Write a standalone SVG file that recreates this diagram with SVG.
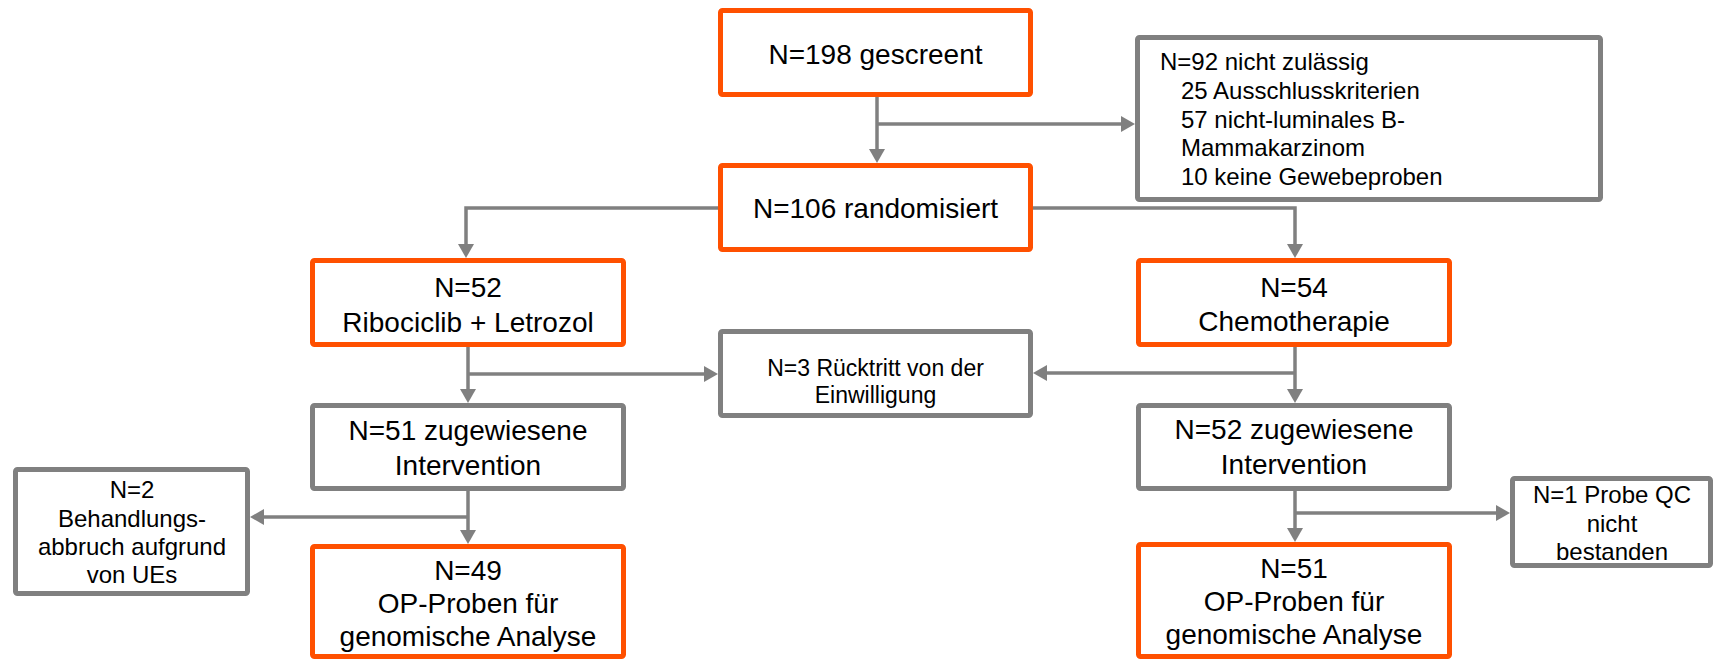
<svg xmlns="http://www.w3.org/2000/svg" width="1718" height="659" viewBox="0 0 1718 659">
<defs>
<style>
.or{fill:#fff;stroke:#FF5000;stroke-width:5}
.gr{fill:#fff;stroke:#808080;stroke-width:5}
.t{font-family:"Liberation Sans",Arial,sans-serif;font-size:28px;fill:#000;text-anchor:middle}
.s{font-family:"Liberation Sans",Arial,sans-serif;font-size:24px;fill:#000;text-anchor:middle}
.l{font-family:"Liberation Sans",Arial,sans-serif;font-size:24px;fill:#000}
.c{fill:none;stroke:#808080;stroke-width:3.5}
</style>
<marker id="ah" markerUnits="userSpaceOnUse" markerWidth="14" markerHeight="16" refX="9" refY="8" orient="auto">
<path d="M0,0 L14,8 L0,16 Z" fill="#808080"/>
</marker>
</defs>
<rect width="1718" height="659" fill="#fff"/>
<g id="connectors">
<path class="c" d="M877,97 V158" marker-end="url(#ah)"/>
<path class="c" d="M877,124 H1130" marker-end="url(#ah)"/>
<path class="c" d="M718,208 H466 V253" marker-end="url(#ah)"/>
<path class="c" d="M1033,208 H1295 V253" marker-end="url(#ah)"/>
<path class="c" d="M468,347 V398" marker-end="url(#ah)"/>
<path class="c" d="M468,374 H713" marker-end="url(#ah)"/>
<path class="c" d="M1295,347 V398" marker-end="url(#ah)"/>
<path class="c" d="M1295,373 H1038" marker-end="url(#ah)"/>
<path class="c" d="M468,491 V539" marker-end="url(#ah)"/>
<path class="c" d="M468,517 H255" marker-end="url(#ah)"/>
<path class="c" d="M1295,490 V537" marker-end="url(#ah)"/>
<path class="c" d="M1295,513 H1505" marker-end="url(#ah)"/>
</g>
<g id="screened">
<rect class="or" x="720.5" y="10.5" width="310" height="84" rx="2"/>
<text class="t" x="875.5" y="64">N=198 gescreent</text>
</g>
<g id="randomized">
<rect class="or" x="720.5" y="165.5" width="310" height="84" rx="2"/>
<text class="t" x="875.5" y="218">N=106 randomisiert</text>
</g>
<g id="ineligible">
<rect class="gr" x="1137.5" y="37.5" width="463" height="162" rx="2"/>
<text class="l" x="1160" y="70">N=92 nicht zulässig</text>
<text class="l" x="1181" y="99">25 Ausschlusskriterien</text>
<text class="l" x="1181" y="127.5">57 nicht-luminales B-</text>
<text class="l" x="1181" y="156">Mammakarzinom</text>
<text class="l" x="1181" y="184.5">10 keine Gewebeproben</text>
</g>
<g id="ribociclib">
<rect class="or" x="312.5" y="260.5" width="311" height="84" rx="2"/>
<text class="t" x="468" y="297">N=52</text>
<text class="t" x="468" y="332">Ribociclib + Letrozol</text>
</g>
<g id="chemo">
<rect class="or" x="1138.5" y="260.5" width="311" height="84" rx="2"/>
<text class="t" x="1294" y="297">N=54</text>
<text class="t" x="1294" y="331">Chemotherapie</text>
</g>
<g id="withdrawal">
<rect class="gr" x="720.5" y="331.5" width="310" height="84" rx="2"/>
<text class="s" x="875.5" y="376" style="font-size:23px">N=3 Rücktritt von der</text>
<text class="s" x="875.5" y="403" style="font-size:23px">Einwilligung</text>
</g>
<g id="assigned-left">
<rect class="gr" x="312.5" y="405.5" width="311" height="83" rx="2"/>
<text class="t" x="468" y="440">N=51 zugewiesene</text>
<text class="t" x="468" y="475">Intervention</text>
</g>
<g id="assigned-right">
<rect class="gr" x="1138.5" y="405.5" width="311" height="83" rx="2"/>
<text class="t" x="1294" y="439">N=52 zugewiesene</text>
<text class="t" x="1294" y="474">Intervention</text>
</g>
<g id="discontinued">
<rect class="gr" x="15.5" y="469.5" width="232" height="124" rx="2"/>
<text class="s" x="132" y="498">N=2</text>
<text class="s" x="132" y="527">Behandlungs-</text>
<text class="s" x="132" y="555">abbruch aufgrund</text>
<text class="s" x="132" y="583">von UEs</text>
</g>
<g id="qc-failed">
<rect class="gr" x="1512.5" y="478.5" width="198" height="87" rx="2"/>
<text class="s" x="1612" y="503">N=1 Probe QC</text>
<text class="s" x="1612" y="532">nicht</text>
<text class="s" x="1612" y="560">bestanden</text>
</g>
<g id="samples-left">
<rect class="or" x="312.5" y="546.5" width="311" height="110" rx="2"/>
<text class="t" x="468" y="580">N=49</text>
<text class="t" x="468" y="613">OP-Proben für</text>
<text class="t" x="468" y="646">genomische Analyse</text>
</g>
<g id="samples-right">
<rect class="or" x="1138.5" y="544.5" width="311" height="112" rx="2"/>
<text class="t" x="1294" y="578">N=51</text>
<text class="t" x="1294" y="611">OP-Proben für</text>
<text class="t" x="1294" y="644">genomische Analyse</text>
</g>
</svg>
